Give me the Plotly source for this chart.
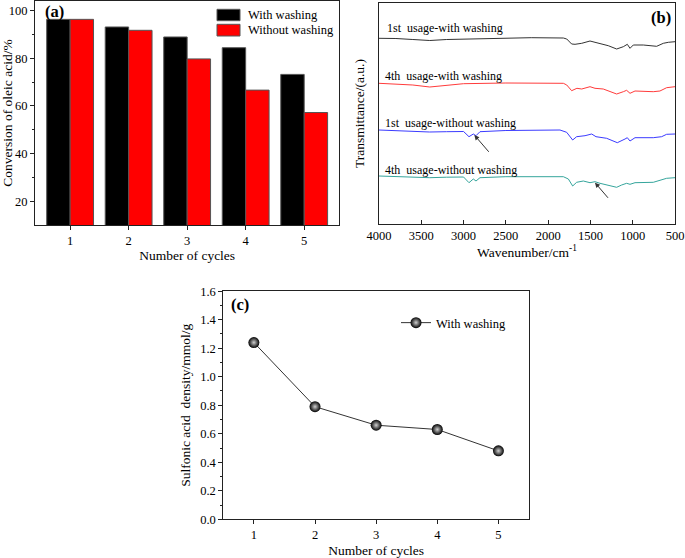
import plotly.graph_objects as go

# ---------------- data ----------------
cycles = [1, 2, 3, 4, 5]
conv_with_washing = [96.3, 93.1, 88.9, 84.4, 73.2]
conv_without_washing = [96.3, 91.7, 79.7, 66.6, 57.2]

sulfonic_density = [1.24, 0.79, 0.66, 0.63, 0.48]

wn_1st_with = [4000, 3800, 3600, 3400, 3200, 3000, 2500, 2200, 1820, 1780, 1722, 1682, 1603, 1505, 1446, 1387, 1289, 1190, 1111, 1064, 1032, 993, 875, 717, 638, 579, 500]
t_1st_with = [185.7, 185.5, 184.5, 183.5, 184.5, 185.0, 186.0, 186.3, 186.0, 185.0, 180.0, 179.7, 180.7, 183.0, 181.7, 180.7, 178.3, 175.0, 177.3, 179.7, 175.7, 179.0, 179.0, 177.7, 180.7, 181.7, 182.3]

wn_4th_with = [4000, 3800, 3600, 3400, 3200, 3000, 2500, 2200, 1820, 1780, 1722, 1660, 1603, 1505, 1446, 1348, 1190, 1111, 1072, 1032, 973, 757, 678, 599, 500]
t_4th_with = [140.7, 140.2, 139.0, 137.0, 139.0, 140.3, 141.0, 141.0, 140.7, 139.0, 133.3, 135.7, 135.0, 137.3, 135.7, 135.0, 130.0, 132.3, 133.7, 130.7, 133.0, 132.3, 133.0, 136.3, 137.3]

wn_1st_without = [4000, 3800, 3600, 3400, 3200, 3000, 2936, 2885, 2853, 2806, 2500, 2200, 1860, 1781, 1710, 1663, 1564, 1485, 1434, 1308, 1182, 1091, 1064, 1032, 973, 757, 658, 599, 500]
t_1st_without = [94.0, 93.2, 92.5, 92.0, 92.3, 92.5, 87.3, 90.0, 88.3, 92.3, 93.5, 94.0, 94.0, 91.7, 84.0, 87.3, 88.3, 90.0, 87.3, 85.7, 81.3, 85.0, 86.3, 83.0, 86.3, 86.3, 87.3, 89.7, 90.0]

wn_4th_without = [4000, 3800, 3600, 3400, 3200, 3000, 2936, 2885, 2853, 2806, 2500, 2200, 1820, 1761, 1710, 1663, 1584, 1505, 1446, 1387, 1289, 1190, 1131, 1072, 1032, 973, 757, 658, 599, 500]
t_4th_without = [48.0, 47.5, 46.5, 46.3, 46.8, 47.0, 41.3, 45.0, 43.0, 46.3, 47.3, 47.3, 47.3, 45.0, 38.0, 41.7, 43.0, 41.3, 42.3, 40.7, 39.0, 36.7, 39.0, 40.7, 39.7, 41.3, 41.7, 44.0, 45.7, 46.3]

spectra_labels = ["1st  usage-with washing", "4th  usage-with washing",
                  "1st  usage-without washing", "4th  usage-without washing"]

FONT = "Liberation Serif, Times New Roman, serif"
W, H = 685, 558

def px(x):
    return x / W

def py(y):
    return 1 - y / H

fig = go.Figure()

# ---------------- (a) bars ----------------
fig.add_trace(go.Bar(x=cycles, y=conv_with_washing, name="With washing",
                     marker=dict(color="#000000", line=dict(color="#555555", width=1)),
                     xaxis="x", yaxis="y", showlegend=False))
fig.add_trace(go.Bar(x=cycles, y=conv_without_washing, name="Without washing",
                     marker=dict(color="#ff0000", line=dict(color="#555555", width=1)),
                     xaxis="x", yaxis="y", showlegend=False))

# ---------------- (b) spectra ----------------
spec_colors = ["#333333", "#ff3b3b", "#3b3bff", "#35a59c"]
for wn, t, c, name in zip([wn_1st_with, wn_4th_with, wn_1st_without, wn_4th_without],
                          [t_1st_with, t_4th_with, t_1st_without, t_4th_without],
                          spec_colors, spectra_labels):
    fig.add_trace(go.Scatter(x=wn, y=t, mode="lines", line=dict(color=c, width=1),
                             name=name, xaxis="x2", yaxis="y2", showlegend=False))

# ---------------- (c) line ----------------
fig.add_trace(go.Scatter(x=cycles, y=sulfonic_density, mode="lines+markers",
                         name="With washing",
                         line=dict(color="#333333", width=1),
                         marker=dict(size=11, color="#000000",
                                     gradient=dict(type="radial", color="#d0d0d0"),
                                     line=dict(width=0)),
                         xaxis="x3", yaxis="y3", showlegend=True, legend="legend"))

axis_common = dict(showline=True, linecolor="#222222", linewidth=1, mirror=True,
                   showgrid=False, zeroline=False, automargin=False,
                   tickfont=dict(family=FONT, size=12.5, color="#000"),
                   tickcolor="#222222", ticklen=4)

fig.update_layout(
    template="none",
    width=W, height=H, autosize=False,
    margin=dict(l=0, r=0, t=0, b=0, pad=0, autoexpand=False),
    paper_bgcolor="white", plot_bgcolor="white",
    font=dict(family=FONT, color="#000"),
    barmode="group", bargap=0.2, bargroupgap=0,
    xaxis=dict(domain=[px(35), px(339.3)], range=[0.4, 5.6], tickmode="array",
               tickvals=cycles, ticks="outside",
               title=dict(text="Number of cycles", font=dict(size=13.5), standoff=2),
               anchor="y", **axis_common),
    yaxis=dict(domain=[py(225), py(1)], range=[10, 104], tickmode="array",
               tickvals=[20, 40, 60, 80, 100], ticks="outside",
               minor=dict(tickvals=[30, 50, 70, 90], ticks="outside", ticklen=2.5, tickcolor="#222222"),
               title=dict(text="Conversion of oleic acid/%", font=dict(size=13.5), standoff=3),
               anchor="x", **axis_common),
    xaxis2=dict(domain=[px(379), px(675)], range=[4000, 500], tickmode="array",
                tickvals=[4000, 3500, 3000, 2500, 2000, 1500, 1000, 500], ticks="inside",
                title=dict(text="Wavenumber/cm<sup>-1</sup>", font=dict(size=13.5), standoff=4),
                anchor="y2", **axis_common),
    yaxis2=dict(domain=[py(224), py(3)], range=[0, 221], showticklabels=False, ticks="",
                title=dict(text="Transmittance/(a.u.)", font=dict(size=13.5), standoff=10),
                anchor="x2", **axis_common),
    xaxis3=dict(domain=[px(223.3), px(529)], range=[0.5, 5.5], tickmode="array",
                tickvals=cycles, ticks="outside",
                title=dict(text="Number of cycles", font=dict(size=13.5), standoff=5),
                anchor="y3", **axis_common),
    yaxis3=dict(domain=[py(519.3), py(291.2)], range=[0, 1.6], tickmode="array",
                tickvals=[0, 0.2, 0.4, 0.6, 0.8, 1.0, 1.2, 1.4, 1.6], tickformat=".1f", ticks="outside",
                minor=dict(tickvals=[0.1, 0.3, 0.5, 0.7, 0.9, 1.1, 1.3, 1.5], ticks="outside", ticklen=2.5, tickcolor="#222222"),
                title=dict(text="Sulfonic acid  density/mmol/g", font=dict(size=13.5), standoff=6),
                anchor="x3", **axis_common),
    legend=dict(x=px(396), y=py(308), xanchor="left", yanchor="top",
                bgcolor="rgba(0,0,0,0)", borderwidth=0,
                font=dict(family=FONT, size=12.5, color="#000"),
                itemwidth=30, tracegroupgap=0),
)

shapes = []
annotations = []

# (a) legend swatches drawn as paper rectangles
for (y0, y1, col, txt) in [(9.3, 20.7, "#000000", "With washing"), (24.3, 36.0, "#ff0000", "Without washing")]:
    shapes.append(dict(type="rect", xref="paper", yref="paper",
                       x0=px(217), x1=px(240), y0=py(y1), y1=py(y0),
                       fillcolor=col, line=dict(color="#555555", width=1)))
    annotations.append(dict(xref="paper", yref="paper", x=px(246), y=py((y0 + y1) / 2),
                            text=txt, showarrow=False, xanchor="left", yanchor="middle",
                            font=dict(family=FONT, size=12.5, color="#000")))

# panel labels
for (x, y, t) in [(43, 12, "(a)"), (649, 18, "(b)"), (229, 304, "(c)")]:
    annotations.append(dict(xref="paper", yref="paper", x=px(x), y=py(y), text="<b>%s</b>" % t,
                            showarrow=False, xanchor="left", yanchor="middle",
                            font=dict(family=FONT, size=16.5, color="#000")))

# (b) curve labels
for (x, y, t) in [(385, 28.3, spectra_labels[0]), (383, 76, spectra_labels[1]),
                  (383, 122.7, spectra_labels[2]), (382.5, 170, spectra_labels[3])]:
    annotations.append(dict(xref="paper", yref="paper", x=px(x), y=py(y), text=t,
                            showarrow=False, xanchor="left", yanchor="middle",
                            font=dict(family=FONT, size=12, color="#000")))

# (b) arrows
annotations.append(dict(x=2873, y=89, xref="x2", yref="y2", ax=2687, ay=70.7, axref="x2", ayref="y2",
                        showarrow=True, arrowhead=2, arrowsize=1, arrowwidth=1, arrowcolor="#333333", text=""))
annotations.append(dict(x=1446, y=41.3, xref="x2", yref="y2", ax=1277, ay=24.7, axref="x2", ayref="y2",
                        showarrow=True, arrowhead=2, arrowsize=1, arrowwidth=1, arrowcolor="#333333", text=""))

fig.update_layout(shapes=shapes, annotations=annotations)

fig.write_html("out.html", config={"displayModeBar": False},
               post_script="document.body.style.margin='0';document.body.style.padding='0';"
                           "document.body.style.overflow='hidden';document.documentElement.style.overflow='hidden';")
